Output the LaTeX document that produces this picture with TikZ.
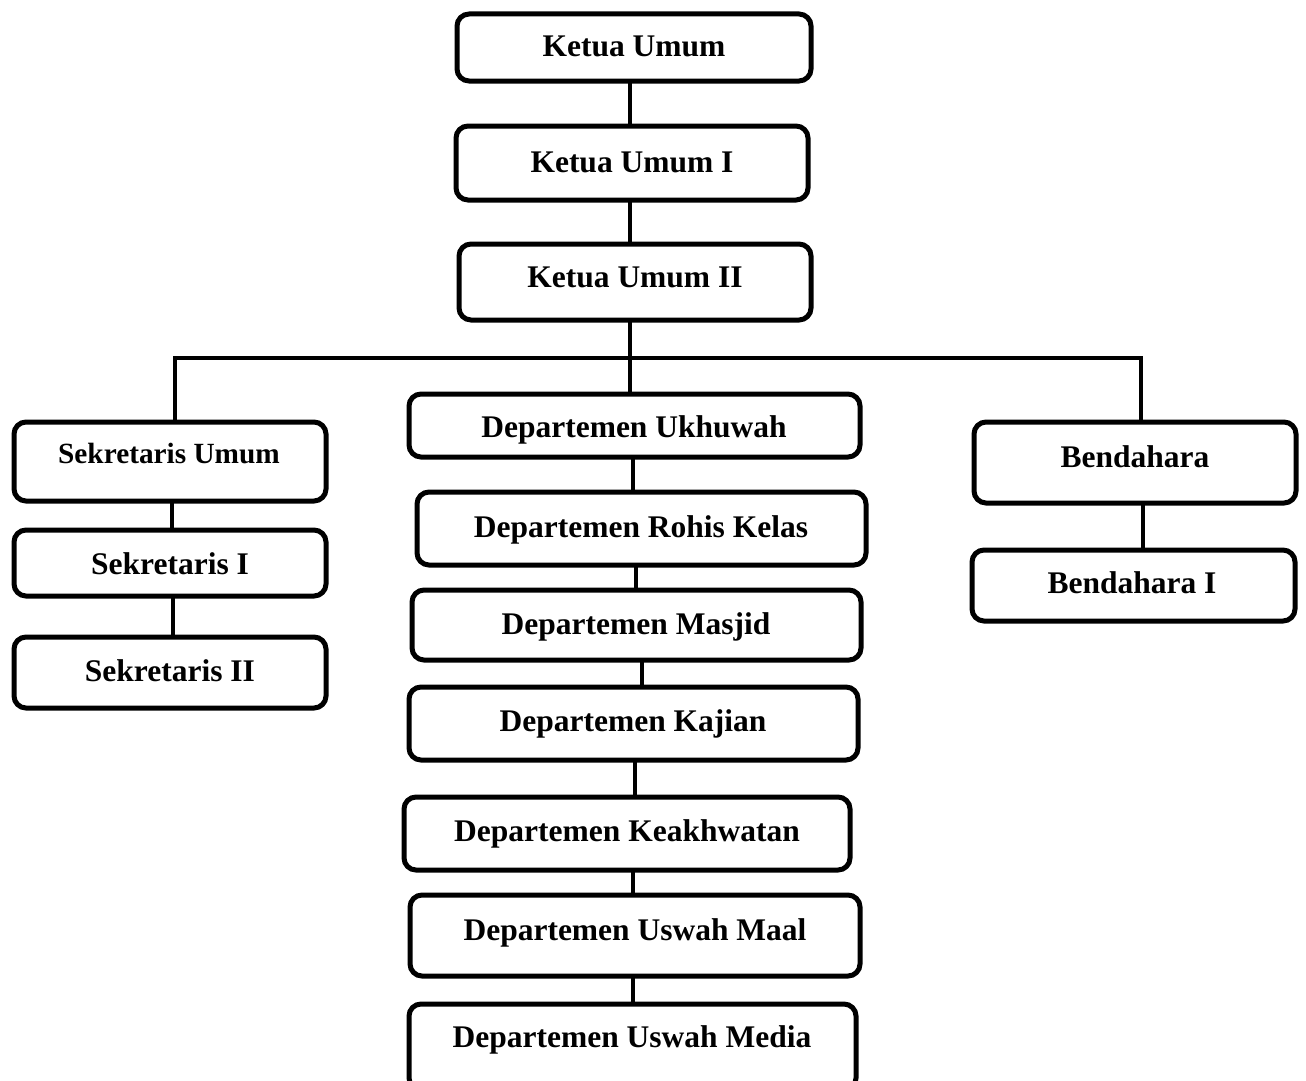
\documentclass[tikz,border=0pt]{standalone}
\usepackage{fontspec}
\setmainfont{Liberation Serif}
\begin{document}
\begin{tikzpicture}[x=1pt,y=-1pt,
  bx/.style={draw=black, line width=5pt, rounded corners=12pt, fill=white, inner sep=0pt, outer sep=0pt},
  lbl/.style={anchor=base, inner sep=0pt, font=\fontsize{31.5}{36}\selectfont\bfseries},
  lbls/.style={anchor=base, inner sep=0pt, font=\fontsize{29.3}{34}\selectfont\bfseries},
  conn/.style={draw=black, line width=4.5pt}]
\useasboundingbox (0,0) rectangle (1306,1081);
% boxes
\node[bx, minimum width=354pt, minimum height=67pt] (ku) at (634,47.5) {};
\node[bx, minimum width=352pt, minimum height=74pt] (ku1) at (632,163) {};
\node[bx, minimum width=352pt, minimum height=76pt] (ku2) at (635,282) {};
\node[bx, minimum width=312pt, minimum height=79pt] (su) at (170,461.5) {};
\node[bx, minimum width=312pt, minimum height=66pt] (s1) at (170,563) {};
\node[bx, minimum width=312pt, minimum height=71pt] (s2) at (170,672.5) {};
\node[bx, minimum width=451pt, minimum height=63pt] (du) at (634.5,425.5) {};
\node[bx, minimum width=449pt, minimum height=73pt] (dr) at (641.5,528.5) {};
\node[bx, minimum width=449pt, minimum height=70pt] (dm) at (636.5,625) {};
\node[bx, minimum width=449pt, minimum height=73pt] (dk) at (633.5,723.5) {};
\node[bx, minimum width=446pt, minimum height=73pt] (dkh) at (627,833.5) {};
\node[bx, minimum width=450pt, minimum height=81pt] (dum) at (635,935.5) {};
\node[bx, minimum width=447pt, minimum height=86pt] (dmed) at (632.5,1047) {};
\node[bx, minimum width=322pt, minimum height=81pt] (b) at (1135,462.5) {};
\node[bx, minimum width=323pt, minimum height=71pt] (b1) at (1133.5,585.5) {};
% labels
\node[lbl] (tku) at (634,57) {Ketua Umum};
\node[lbl] (tku1) at (632,172) {Ketua Umum I};
\node[lbl] (tku2) at (635,287) {Ketua Umum II};
\node[lbls] (tsu) at (169,463) {Sekretaris Umum};
\node[lbl] (ts1) at (170,574) {Sekretaris I};
\node[lbl] (ts2) at (170,681) {Sekretaris II};
\node[lbl] (tdu) at (634,437) {Departemen Ukhuwah};
\node[lbl] (tdr) at (641,537) {Departemen Rohis Kelas};
\node[lbl] (tdm) at (636,634) {Departemen Masjid};
\node[lbl] (tdk) at (633,731) {Departemen Kajian};
\node[lbl] (tdkh) at (627,841) {Departemen Keakhwatan};
\node[lbl] (tdum) at (635,940) {Departemen Uswah Maal};
\node[lbl] (tdmed) at (632,1047) {Departemen Uswah Media};
\node[lbl] (tb) at (1135,467) {Bendahara};
\node[lbl] (tb1) at (1132,593) {Bendahara I};
% connectors
\draw[conn] (630,0 |- ku.south) -- (630,0 |- ku1.north);
\draw[conn] (630,0 |- ku1.south) -- (630,0 |- ku2.north);
\draw[conn] (630,0 |- ku2.south) -- (630,0 |- du.north);
\draw[conn, line join=miter] (175,0 |- su.north) -- (175,358) -- (1141,358) -- (1141,0 |- b.north);
\draw[conn] (172,0 |- su.south) -- (172,0 |- s1.north);
\draw[conn] (173,0 |- s1.south) -- (173,0 |- s2.north);
\draw[conn] (633,0 |- du.south) -- (633,0 |- dr.north);
\draw[conn] (636,0 |- dr.south) -- (636,0 |- dm.north);
\draw[conn] (642,0 |- dm.south) -- (642,0 |- dk.north);
\draw[conn] (635,0 |- dk.south) -- (635,0 |- dkh.north);
\draw[conn] (633,0 |- dkh.south) -- (633,0 |- dum.north);
\draw[conn] (633,0 |- dum.south) -- (633,0 |- dmed.north);
\draw[conn] (1143,0 |- b.south) -- (1143,0 |- b1.north);
\end{tikzpicture}
\end{document}
